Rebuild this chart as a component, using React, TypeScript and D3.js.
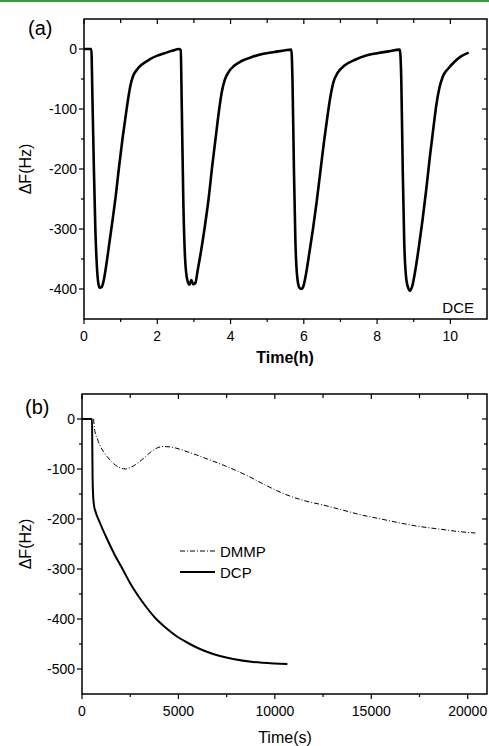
import React from "react";
import * as d3 from "d3";

// Panel (a): DCE response cycles
const dceTime = [0, 0.2, 0.23, 0.27, 0.31, 0.35, 0.39, 0.43, 0.48, 0.54, 0.62, 0.7, 0.78, 0.86, 0.95, 1.05, 1.13, 1.2, 1.27, 1.34, 1.45, 1.6, 1.8, 2.0, 2.2, 2.4, 2.6,
  2.64, 2.67, 2.71, 2.76, 2.82, 2.88, 2.93, 2.98, 3.04, 3.1, 3.2, 3.3, 3.4, 3.5, 3.6, 3.68, 3.76, 3.84, 3.95, 4.1, 4.3, 4.6, 4.9, 5.2, 5.5, 5.66,
  5.69, 5.73, 5.77, 5.82, 5.88, 5.93, 5.99, 6.06, 6.15, 6.25, 6.35, 6.45, 6.55, 6.65, 6.73, 6.81, 6.92, 7.1, 7.4, 7.7, 8.0, 8.3, 8.62,
  8.66, 8.7, 8.74, 8.8, 8.86, 8.9, 8.96, 9.04, 9.14, 9.24, 9.34, 9.44, 9.54, 9.62, 9.7, 9.8, 9.95, 10.1, 10.3, 10.5];
const dceValue = [0, 0, -80, -200, -300, -360, -390, -398, -397, -385, -355, -320, -285, -248, -200, -150, -115, -85, -60, -45, -34, -25, -17, -11, -7, -3, 0,
  -2, -100, -250, -350, -385, -393, -385, -392, -390, -370, -335, -295, -250, -195, -145, -105, -72, -52, -38, -28, -20, -13, -8, -5, -2, -1,
  -50, -200, -320, -380, -398, -400, -395, -375, -340, -300, -255, -205, -155, -110, -78, -55, -40, -28, -18, -11, -7, -4, -1,
  -50, -200, -320, -385, -400, -403, -395, -370, -330, -285, -235, -180, -130, -92, -65, -45, -32, -22, -12, -6];

// Panel (b): DMMP and DCP
const dmmpTime = [600, 650, 800, 1000, 1300, 1600, 2000, 2250, 2500, 2900, 3300, 3700, 4200, 4600, 5500, 6500, 7500, 8500, 9500, 10500, 11500, 12500, 13500, 14500, 15500, 16500, 17500, 18500, 19500, 20400];
const dmmpValue = [0, -20, -40, -58, -75, -88, -98, -100, -97, -88, -75, -62, -55, -56, -66, -80, -95, -112, -132, -150, -163, -172, -182, -192, -200, -208, -215, -220, -225, -228];
const dcpTime = [0, 520, 535, 550, 580, 620, 700, 900, 1300, 1700, 2130, 2490, 2900, 3370, 3800, 4300, 5000, 5450, 6000, 6800, 7840, 8880, 10000, 10650];
const dcpValue = [0, 0, -60, -120, -155, -172, -185, -205, -240, -272, -302, -328, -353, -378, -398, -416, -437, -447, -458, -470, -480, -486, -489, -490];

const aXTicks = [0, 2, 4, 6, 8, 10];
const aYTicks = [0, -100, -200, -300, -400];
const bXTicks = [0, 5000, 10000, 15000, 20000];
const bYTicks = [0, -100, -200, -300, -400, -500];

const FONT = "'Liberation Sans', Arial, sans-serif";

function Frame({ x, y, xTicks, yTicks, xMinor, yMinor, xFmt }: any) {
  const [x0, x1] = x.range();
  const [y0, y1] = y.range(); // y0 bottom, y1 top
  const tl = 5;
  const ml = 3;
  return (
    <g>
      <rect x={x0} y={y1} width={x1 - x0} height={y0 - y1} fill="none" stroke="#000" strokeWidth={1.5} />
      {xMinor.map((t: number, i: number) => (
        <g key={"xm" + i}>
          <line x1={x(t)} x2={x(t)} y1={y0} y2={y0 + ml} stroke="#000" strokeWidth={1.2} />
          <line x1={x(t)} x2={x(t)} y1={y1} y2={y1 + ml + 1} stroke="#000" strokeWidth={1.2} />
        </g>
      ))}
      {xTicks.map((t: number, i: number) => (
        <g key={"x" + i}>
          <line x1={x(t)} x2={x(t)} y1={y0} y2={y0 + tl} stroke="#000" strokeWidth={1.2} />
          <line x1={x(t)} x2={x(t)} y1={y1} y2={y1 + tl} stroke="#000" strokeWidth={1.2} />
          <text x={x(t)} y={y0 + 22} textAnchor="middle" fontSize={14} fontFamily={FONT}>{xFmt(t)}</text>
        </g>
      ))}
      {yMinor.map((t: number, i: number) => (
        <g key={"ym" + i}>
          <line x1={x0 - ml} x2={x0} y1={y(t)} y2={y(t)} stroke="#000" strokeWidth={1.2} />
          <line x1={x1 - ml} x2={x1} y1={y(t)} y2={y(t)} stroke="#000" strokeWidth={1.2} />
        </g>
      ))}
      {yTicks.map((t: number, i: number) => (
        <g key={"y" + i}>
          <line x1={x0 - tl} x2={x0} y1={y(t)} y2={y(t)} stroke="#000" strokeWidth={1.2} />
          <line x1={x1 - tl} x2={x1} y1={y(t)} y2={y(t)} stroke="#000" strokeWidth={1.2} />
          <text x={x0 - 7} y={y(t) + 5} textAnchor="end" fontSize={14} fontFamily={FONT}>{t}</text>
        </g>
      ))}
    </g>
  );
}

export default function App() {
  const W = 489, H = 746;
  const xa = d3.scaleLinear().domain([0, 11]).range([84, 487]);
  const ya = d3.scaleLinear().domain([-450, 50]).range([319, 19]);
  const xb = d3.scaleLinear().domain([0, 21000]).range([82, 487]);
  const yb = d3.scaleLinear().domain([-550, 50]).range([694, 394]);

  const la = d3.line<[number, number]>().x((d) => xa(d[0])).y((d) => ya(d[1])).curve(d3.curveMonotoneX);
  const lb = d3.line<[number, number]>().x((d) => xb(d[0])).y((d) => yb(d[1])).curve(d3.curveMonotoneX);

  const dcePts = dceTime.map((t, i) => [t, dceValue[i]] as [number, number]);
  const dmmpPts = dmmpTime.map((t, i) => [t, dmmpValue[i]] as [number, number]);
  const dcpPts = dcpTime.map((t, i) => [t, dcpValue[i]] as [number, number]);

  const aXMinor = d3.range(1, 11, 2);
  const aYMinor = d3.range(-350, 50, 100);
  const bXMinor = d3.range(2500, 21000, 5000);
  const bYMinor = d3.range(-450, 50, 100);

  return (
    <svg width={W} height={H} style={{ position: "absolute", left: 0, top: 0, background: "#fff" }}>
      <rect x={0} y={0} width={W} height={H} fill="#fff" />
      <rect x={0} y={0} width={W} height={2} fill="#3a9a3a" />

      {/* Panel a */}
      <Frame x={xa} y={ya} xTicks={aXTicks} yTicks={aYTicks} xMinor={aXMinor} yMinor={aYMinor} xFmt={(t: number) => String(t)} />
      <path d={la(dcePts) || ""} fill="none" stroke="#000" strokeWidth={2.6} strokeLinejoin="round" />
      <text x={28} y={35} fontSize={20} fontFamily={FONT}>(a)</text>
      <text x={474} y={313} textAnchor="end" fontSize={15} fontFamily={FONT}>DCE</text>
      <text x={285} y={363} textAnchor="middle" fontSize={16} fontWeight="bold" fontFamily={FONT}>Time(h)</text>
      <text transform={`translate(31,${ya(-200)}) rotate(-90)`} textAnchor="middle" fontSize={16} fontFamily={FONT}>ΔF(Hz)</text>

      {/* Panel b */}
      <Frame x={xb} y={yb} xTicks={bXTicks} yTicks={bYTicks} xMinor={bXMinor} yMinor={bYMinor} xFmt={(t: number) => String(t)} />
      <path d={lb(dmmpPts) || ""} fill="none" stroke="#000" strokeWidth={1} strokeDasharray="5,2,1,2" />
      <path d={lb(dcpPts) || ""} fill="none" stroke="#000" strokeWidth={2} strokeLinejoin="round" />
      <text x={25} y={414} fontSize={20} fontFamily={FONT}>(b)</text>
      <text x={285} y={743} textAnchor="middle" fontSize={16} fontFamily={FONT}>Time(s)</text>
      <text transform={`translate(31,${yb(-250)}) rotate(-90)`} textAnchor="middle" fontSize={16} fontFamily={FONT}>ΔF(Hz)</text>

      {/* Legend */}
      <line x1={180} x2={215} y1={551} y2={551} stroke="#000" strokeWidth={1} strokeDasharray="5,2,1,2" />
      <text x={220} y={557} fontSize={15} fontFamily={FONT}>DMMP</text>
      <line x1={180} x2={215} y1={572} y2={572} stroke="#000" strokeWidth={2} />
      <text x={220} y={578} fontSize={15} fontFamily={FONT}>DCP</text>
    </svg>
  );
}
